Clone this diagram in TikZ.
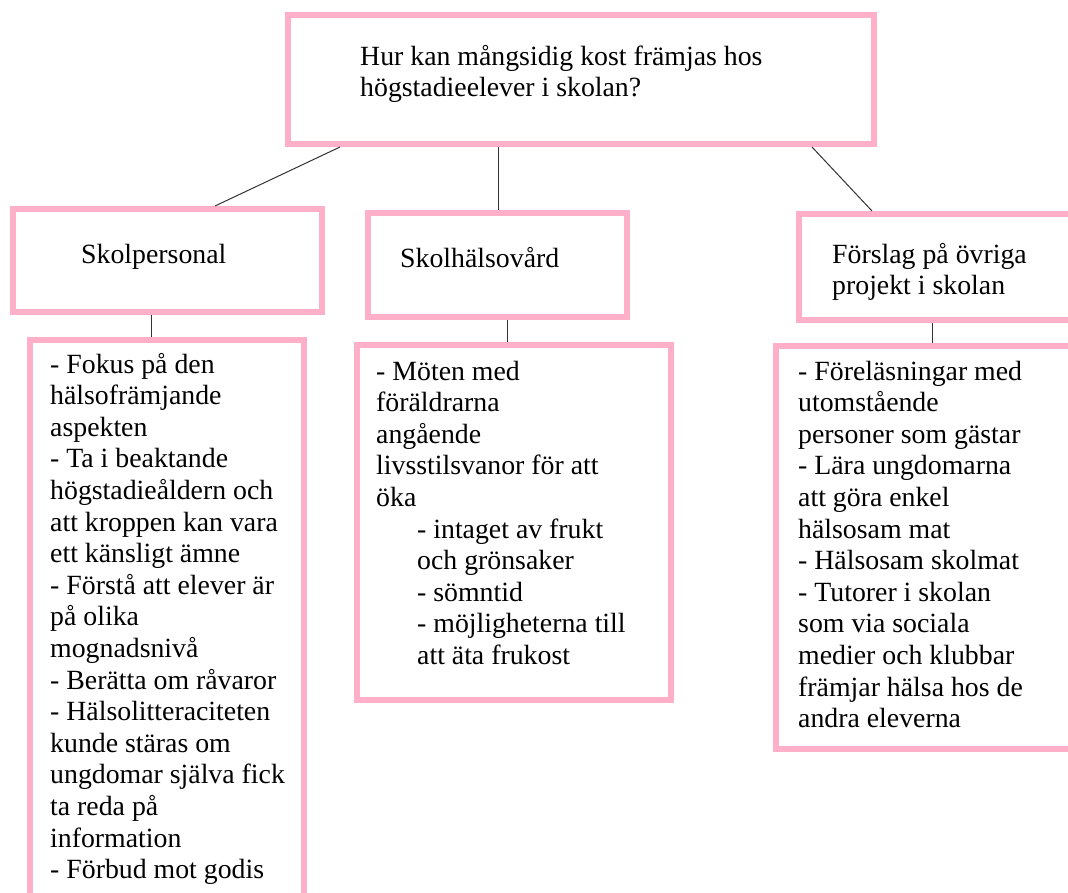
\documentclass[tikz,border=0pt]{standalone}
\usepackage{fontspec}
\setmainfont{Liberation Serif}
\definecolor{boxpink}{RGB}{255,175,200}
\tikzset{
  pinkbox/.style={draw=boxpink, line width=6pt, rectangle, inner sep=0pt, fill=none},
  txt/.style={anchor=base west, inner sep=0pt, align=left, font=\fontsize{27.8}{31.6}\selectfont, text=black},
  conn/.style={draw=black!80, line width=1pt}
}
\begin{document}
\begin{tikzpicture}[x=1pt,y=-1pt]
\useasboundingbox (0,0) rectangle (1068,892);
\clip (0,0) rectangle (1068,892);
% boxes
\node[pinkbox, minimum width=586pt, minimum height=129pt] (top) at (581,79.5) {};
\node[pinkbox, minimum width=309pt, minimum height=103pt] (sp) at (167.5,260.5) {};
\node[pinkbox, minimum width=259pt, minimum height=104pt] (sh) at (497.5,265) {};
\node[pinkbox, minimum width=301pt, minimum height=106pt] (fp) at (949.5,267) {};
\node[pinkbox, minimum width=274pt, minimum height=610pt] (spd) at (167,645) {};
\node[pinkbox, minimum width=314pt, minimum height=355pt] (shd) at (514,522.5) {};
\node[pinkbox, minimum width=324pt, minimum height=403pt] (fpd) at (938,547.5) {};
% connectors
\draw[conn] (340,0 |- top.south) -- (215,0 |- sp.north);
\draw[conn] (498,0 |- top.south) -- (498,0 |- sh.north);
\draw[conn] (812,0 |- top.south) -- (872,0 |- fp.north);
\draw[conn] (151,0 |- sp.south) -- (151,0 |- spd.north);
\draw[conn] (507,0 |- sh.south) -- (507,0 |- shd.north);
\draw[conn] (932,0 |- fp.south) -- (932,0 |- fpd.north);
% texts (anchor base = baseline of the last line)
\node[txt] (toptxt) at (360,{65+1*31.6}) {Hur kan mångsidig kost främjas hos\\högstadieelever i skolan?};
\node[txt] (sptxt) at (81,263) {Skolpersonal};
\node[txt] (shtxt) at (400,267) {Skolhälsovård};
\node[txt] (fptxt) at (832,{263+1*31.6}) {Förslag på övriga\\projekt i skolan};
\node[txt] (spdtxt) at (50,{373+16*31.6}) {- Fokus på den\\hälsofrämjande\\aspekten\\- Ta i beaktande\\högstadieåldern och\\att kroppen kan vara\\ett känsligt ämne\\- Förstå att elever är\\på olika\\mognadsnivå\\- Berätta om råvaror\\- Hälsolitteraciteten\\kunde stäras om\\ungdomar själva fick\\ta reda på\\information\\- Förbud mot godis};
\node[txt] (shdtxt) at (376,{380+9*31.6}) {- Möten med\\föräldrarna\\angående\\livsstilsvanor för att\\öka\\\hspace*{41pt}- intaget av frukt\\\hspace*{41pt}och grönsaker\\\hspace*{41pt}- sömntid\\\hspace*{41pt}- möjligheterna till\\\hspace*{41pt}att äta frukost};
\node[txt] (fpdtxt) at (798,{380+11*31.6}) {- Föreläsningar med\\utomstående\\personer som gästar\\- Lära ungdomarna\\att göra enkel\\hälsosam mat\\- Hälsosam skolmat\\- Tutorer i skolan\\som via sociala\\medier och klubbar\\främjar hälsa hos de\\andra eleverna};
\end{tikzpicture}
\end{document}
